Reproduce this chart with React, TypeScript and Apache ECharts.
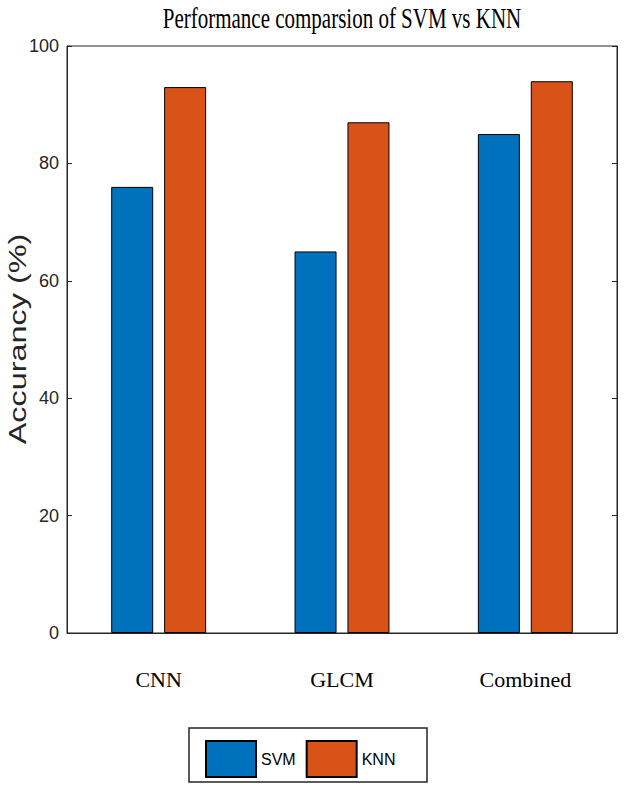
import React, { useEffect, useRef } from "react";
import * as echarts from "echarts";

const categories = ["CNN", "GLCM", "Combined"];
const svmValues = [76, 65, 85];
const knnValues = [93, 87, 94];
const seriesNames = ["SVM", "KNN"];
const yTicks = { min: 0, max: 100, interval: 20 };
const titleText = "Performance comparsion of SVM vs KNN";
const yAxisTitle = "Accurancy (%)";

const SVM_COLOR = "#0072BD";
const KNN_COLOR = "#D95319";
const AXIS_COLOR = "#262626";
const SANS = "'Liberation Sans', Arial, sans-serif";
const SERIF = "'Liberation Serif', 'Times New Roman', serif";

export default function App() {
  const ref = useRef<HTMLDivElement>(null);

  useEffect(() => {
    if (!ref.current) return;
    const chart = echarts.init(ref.current, null, { renderer: "svg" });
    const tickAxis = {
      type: "value" as const,
      min: yTicks.min,
      max: yTicks.max,
      interval: yTicks.interval,
      splitLine: { show: false },
      axisLine: { show: true, lineStyle: { color: AXIS_COLOR, width: 1 } },
      axisTick: { show: true, inside: true, length: 5, lineStyle: { color: AXIS_COLOR, width: 1 } },
    };
    chart.setOption({
      animation: false,
      backgroundColor: "#ffffff",
      grid: {
        left: 67,
        right: 7,
        top: 46,
        bottom: 158,
        show: true,
        borderColor: AXIS_COLOR,
        borderWidth: 1,
        backgroundColor: "transparent",
      },
      legend: {
        data: seriesNames,
        left: 205,
        top: 740,
        padding: 0,
        itemWidth: 50,
        itemHeight: 36,
        itemGap: 10,
        icon: "rect",
        textStyle: { fontFamily: SANS, fontSize: 16, color: "#000" },
      },
      xAxis: {
        type: "category",
        data: categories,
        axisTick: { show: false },
        axisLine: { show: true, lineStyle: { color: AXIS_COLOR, width: 1 } },
        axisLabel: { margin: 35, fontFamily: SERIF, fontSize: 22, color: "#000" },
      },
      yAxis: [
        {
          ...tickAxis,
          position: "left",
          axisLabel: { show: true, fontFamily: SANS, fontSize: 18, color: AXIS_COLOR, margin: 8 },
        },
        {
          ...tickAxis,
          position: "right",
          axisLabel: { show: false },
        },
      ],
      series: [
        {
          name: seriesNames[0],
          type: "bar",
          data: svmValues,
          barWidth: 42,
          barGap: "26%",
          itemStyle: { color: SVM_COLOR, borderColor: "#000", borderWidth: 1 },
        },
        {
          name: seriesNames[1],
          type: "bar",
          data: knnValues,
          barWidth: 42,
          barGap: "26%",
          itemStyle: { color: KNN_COLOR, borderColor: "#000", borderWidth: 1 },
        },
      ],
      graphic: [
        {
          type: "text",
          x: 342,
          y: 18,
          scaleY: 1.4,
          style: {
            text: titleText,
            fontFamily: SERIF,
            fontSize: 21,
            fill: "#000",
            textAlign: "center",
            textVerticalAlign: "middle",
          },
        },
        {
          type: "text",
          x: 18,
          y: 339,
          rotation: Math.PI / 2,
          scaleX: 1.35,
          style: {
            text: yAxisTitle,
            fontFamily: SANS,
            fontSize: 24,
            fill: AXIS_COLOR,
            textAlign: "center",
            textVerticalAlign: "middle",
          },
        },
        {
          type: "rect",
          z: 0,
          shape: { x: 189, y: 728, width: 238, height: 54 },
          style: { fill: "none", stroke: AXIS_COLOR, lineWidth: 1.5 },
        },
      ],
    });
    return () => chart.dispose();
  }, []);

  return (
    <div
      ref={ref}
      style={{ position: "fixed", left: 0, top: 0, width: 624, height: 791, background: "#fff" }}
    />
  );
}
